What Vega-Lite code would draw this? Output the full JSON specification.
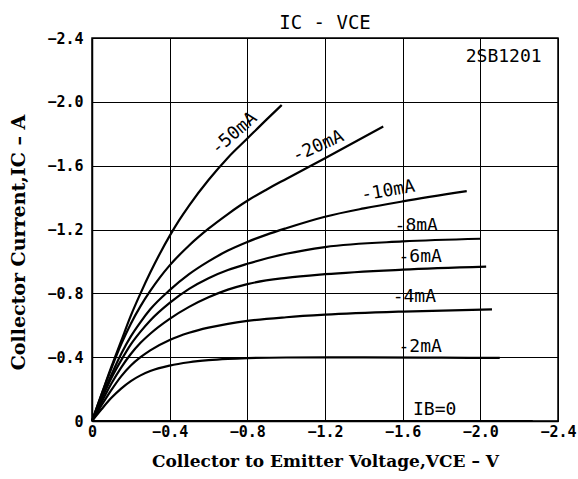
{
  "$schema": "https://vega.github.io/schema/vega-lite/v6.json",
  "width": 466,
  "height": 383,
  "autosize": {"type": "none"},
  "padding": {"left": 92, "top": 38, "right": 20, "bottom": 58},
  "background": "white",
  "title": {"text": "IC - VCE", "font": "DejaVu Sans Mono", "fontSize": 19, "fontWeight": "normal", "color": "black", "anchor": "middle", "offset": -2},
  "config": {
    "view": {"stroke": "black", "strokeWidth": 1.5},
    "axis": {
      "grid": true, "gridColor": "black", "gridWidth": 1, "gridOpacity": 1,
      "ticks": false, "domainColor": "black", "domainWidth": 1.5, "labelFlush": false,
      "labelFont": "DejaVu Sans Mono", "labelFontSize": 15, "labelColor": "black", "labelFontWeight": "bold",
      "titleFont": "DejaVu Serif", "titleFontSize": 17, "titleFontWeight": "bold", "titleColor": "black"
    }
  },
  "datasets": {
    "curves": [
      {"ib": "0", "v": 0, "i": 0}, {"ib": "0", "v": -2.27, "i": 0},
      {"ib": "-2mA", "v": 0, "i": 0}, {"ib": "-2mA", "v": -0.05, "i": -0.075}, {"ib": "-2mA", "v": -0.1, "i": -0.145}, {"ib": "-2mA", "v": -0.15, "i": -0.203}, {"ib": "-2mA", "v": -0.2, "i": -0.25}, {"ib": "-2mA", "v": -0.25, "i": -0.286}, {"ib": "-2mA", "v": -0.3, "i": -0.313}, {"ib": "-2mA", "v": -0.4, "i": -0.347}, {"ib": "-2mA", "v": -0.5, "i": -0.368}, {"ib": "-2mA", "v": -0.6, "i": -0.381}, {"ib": "-2mA", "v": -0.7, "i": -0.389}, {"ib": "-2mA", "v": -0.8, "i": -0.394}, {"ib": "-2mA", "v": -1.0, "i": -0.398}, {"ib": "-2mA", "v": -1.4, "i": -0.399}, {"ib": "-2mA", "v": -1.8, "i": -0.397}, {"ib": "-2mA", "v": -2.1, "i": -0.395},
      {"ib": "-4mA", "v": 0, "i": 0}, {"ib": "-4mA", "v": -0.05, "i": -0.1}, {"ib": "-4mA", "v": -0.1, "i": -0.195}, {"ib": "-4mA", "v": -0.15, "i": -0.28}, {"ib": "-4mA", "v": -0.2, "i": -0.348}, {"ib": "-4mA", "v": -0.25, "i": -0.4}, {"ib": "-4mA", "v": -0.3, "i": -0.443}, {"ib": "-4mA", "v": -0.4, "i": -0.508}, {"ib": "-4mA", "v": -0.5, "i": -0.553}, {"ib": "-4mA", "v": -0.6, "i": -0.585}, {"ib": "-4mA", "v": -0.7, "i": -0.609}, {"ib": "-4mA", "v": -0.8, "i": -0.627}, {"ib": "-4mA", "v": -1.0, "i": -0.65}, {"ib": "-4mA", "v": -1.2, "i": -0.666}, {"ib": "-4mA", "v": -1.6, "i": -0.686}, {"ib": "-4mA", "v": -2.06, "i": -0.7},
      {"ib": "-6mA", "v": 0, "i": 0}, {"ib": "-6mA", "v": -0.05, "i": -0.12}, {"ib": "-6mA", "v": -0.1, "i": -0.235}, {"ib": "-6mA", "v": -0.15, "i": -0.335}, {"ib": "-6mA", "v": -0.2, "i": -0.42}, {"ib": "-6mA", "v": -0.25, "i": -0.49}, {"ib": "-6mA", "v": -0.3, "i": -0.547}, {"ib": "-6mA", "v": -0.4, "i": -0.64}, {"ib": "-6mA", "v": -0.5, "i": -0.715}, {"ib": "-6mA", "v": -0.6, "i": -0.775}, {"ib": "-6mA", "v": -0.7, "i": -0.823}, {"ib": "-6mA", "v": -0.8, "i": -0.858}, {"ib": "-6mA", "v": -1.0, "i": -0.897}, {"ib": "-6mA", "v": -1.2, "i": -0.92}, {"ib": "-6mA", "v": -1.6, "i": -0.948}, {"ib": "-6mA", "v": -2.03, "i": -0.967},
      {"ib": "-8mA", "v": 0, "i": 0}, {"ib": "-8mA", "v": -0.05, "i": -0.14}, {"ib": "-8mA", "v": -0.1, "i": -0.27}, {"ib": "-8mA", "v": -0.15, "i": -0.38}, {"ib": "-8mA", "v": -0.2, "i": -0.48}, {"ib": "-8mA", "v": -0.25, "i": -0.56}, {"ib": "-8mA", "v": -0.3, "i": -0.63}, {"ib": "-8mA", "v": -0.4, "i": -0.74}, {"ib": "-8mA", "v": -0.5, "i": -0.828}, {"ib": "-8mA", "v": -0.6, "i": -0.895}, {"ib": "-8mA", "v": -0.7, "i": -0.946}, {"ib": "-8mA", "v": -0.8, "i": -0.985}, {"ib": "-8mA", "v": -1.0, "i": -1.048}, {"ib": "-8mA", "v": -1.2, "i": -1.09}, {"ib": "-8mA", "v": -1.6, "i": -1.125}, {"ib": "-8mA", "v": -2.0, "i": -1.142},
      {"ib": "-10mA", "v": 0, "i": 0}, {"ib": "-10mA", "v": -0.05, "i": -0.15}, {"ib": "-10mA", "v": -0.1, "i": -0.29}, {"ib": "-10mA", "v": -0.15, "i": -0.42}, {"ib": "-10mA", "v": -0.2, "i": -0.53}, {"ib": "-10mA", "v": -0.25, "i": -0.62}, {"ib": "-10mA", "v": -0.3, "i": -0.7}, {"ib": "-10mA", "v": -0.4, "i": -0.82}, {"ib": "-10mA", "v": -0.5, "i": -0.92}, {"ib": "-10mA", "v": -0.6, "i": -1.0}, {"ib": "-10mA", "v": -0.7, "i": -1.068}, {"ib": "-10mA", "v": -0.8, "i": -1.122}, {"ib": "-10mA", "v": -0.9, "i": -1.168}, {"ib": "-10mA", "v": -1.0, "i": -1.208}, {"ib": "-10mA", "v": -1.2, "i": -1.28}, {"ib": "-10mA", "v": -1.4, "i": -1.332}, {"ib": "-10mA", "v": -1.6, "i": -1.376}, {"ib": "-10mA", "v": -1.93, "i": -1.44},
      {"ib": "-20mA", "v": 0, "i": 0}, {"ib": "-20mA", "v": -0.05, "i": -0.17}, {"ib": "-20mA", "v": -0.1, "i": -0.33}, {"ib": "-20mA", "v": -0.15, "i": -0.48}, {"ib": "-20mA", "v": -0.2, "i": -0.61}, {"ib": "-20mA", "v": -0.25, "i": -0.72}, {"ib": "-20mA", "v": -0.3, "i": -0.815}, {"ib": "-20mA", "v": -0.35, "i": -0.9}, {"ib": "-20mA", "v": -0.4, "i": -0.975}, {"ib": "-20mA", "v": -0.5, "i": -1.1}, {"ib": "-20mA", "v": -0.6, "i": -1.205}, {"ib": "-20mA", "v": -0.7, "i": -1.297}, {"ib": "-20mA", "v": -0.8, "i": -1.38}, {"ib": "-20mA", "v": -0.9, "i": -1.451}, {"ib": "-20mA", "v": -1.0, "i": -1.517}, {"ib": "-20mA", "v": -1.2, "i": -1.647}, {"ib": "-20mA", "v": -1.5, "i": -1.845},
      {"ib": "-50mA", "v": 0, "i": 0}, {"ib": "-50mA", "v": -0.05, "i": -0.17}, {"ib": "-50mA", "v": -0.1, "i": -0.34}, {"ib": "-50mA", "v": -0.15, "i": -0.5}, {"ib": "-50mA", "v": -0.2, "i": -0.66}, {"ib": "-50mA", "v": -0.25, "i": -0.8}, {"ib": "-50mA", "v": -0.3, "i": -0.93}, {"ib": "-50mA", "v": -0.35, "i": -1.05}, {"ib": "-50mA", "v": -0.4, "i": -1.16}, {"ib": "-50mA", "v": -0.45, "i": -1.26}, {"ib": "-50mA", "v": -0.5, "i": -1.35}, {"ib": "-50mA", "v": -0.6, "i": -1.51}, {"ib": "-50mA", "v": -0.7, "i": -1.65}, {"ib": "-50mA", "v": -0.8, "i": -1.77}, {"ib": "-50mA", "v": -0.9, "i": -1.89}, {"ib": "-50mA", "v": -0.977, "i": -1.98}
    ],
    "labels": [
      {"label": "-50mA", "v": -0.733, "i": -1.8},
      {"label": "-20mA", "v": -1.165, "i": -1.72},
      {"label": "-10mA", "v": -1.525, "i": -1.44},
      {"label": "-8mA", "v": -1.67, "i": -1.22},
      {"label": "-6mA", "v": -1.69, "i": -1.03},
      {"label": "-4mA", "v": -1.66, "i": -0.78},
      {"label": "-2mA", "v": -1.69, "i": -0.465},
      {"label": "IB=0", "v": -1.765, "i": -0.067},
      {"label": "2SB1201", "v": -2.12, "i": -2.28}
    ]
  },
  "encoding": {
    "x": {"field": "v", "type": "quantitative", "scale": {"domain": [0, -2.4], "nice": false, "zero": false},
      "axis": {"values": [0, -0.4, -0.8, -1.2, -1.6, -2.0, -2.4], "labelExpr": "datum.value == 0 ? '0' : format(datum.value, '.1f')", "labelPadding": 3, "titlePadding": 14, "title": "Collector to Emitter Voltage,VCE – V"}},
    "y": {"field": "i", "type": "quantitative", "scale": {"domain": [0, -2.4], "nice": false, "zero": false},
      "axis": {"values": [0, -0.4, -0.8, -1.2, -1.6, -2.0, -2.4], "labelExpr": "datum.value == 0 ? '0' : format(datum.value, '.1f')", "labelPadding": 9, "titlePadding": 18, "titleY": 204, "titleFontSize": 19, "title": "Collector Current,IC – A"}}
  },
  "layer": [
    {
      "data": {"name": "curves"},
      "mark": {"type": "line", "color": "black", "strokeWidth": 2.2, "interpolate": "monotone"},
      "encoding": {"detail": {"field": "ib"}, "order": {"field": "v", "sort": "descending"}}
    },
    {
      "data": {"name": "labels"},
      "transform": [{"filter": "datum.label == '-50mA'"}],
      "mark": {"type": "text", "font": "DejaVu Sans Mono", "fontSize": 18, "color": "black", "angle": -41},
      "encoding": {"text": {"field": "label"}}
    },
    {
      "data": {"name": "labels"},
      "transform": [{"filter": "datum.label == '-20mA'"}],
      "mark": {"type": "text", "font": "DejaVu Sans Mono", "fontSize": 18, "color": "black", "angle": -24},
      "encoding": {"text": {"field": "label"}}
    },
    {
      "data": {"name": "labels"},
      "transform": [{"filter": "datum.label == '-10mA'"}],
      "mark": {"type": "text", "font": "DejaVu Sans Mono", "fontSize": 18, "color": "black", "angle": -10},
      "encoding": {"text": {"field": "label"}}
    },
    {
      "data": {"name": "labels"},
      "transform": [{"filter": "datum.label != '-50mA' && datum.label != '-20mA' && datum.label != '-10mA'"}],
      "mark": {"type": "text", "font": "DejaVu Sans Mono", "fontSize": 18, "color": "black"},
      "encoding": {"text": {"field": "label"}}
    }
  ]
}
